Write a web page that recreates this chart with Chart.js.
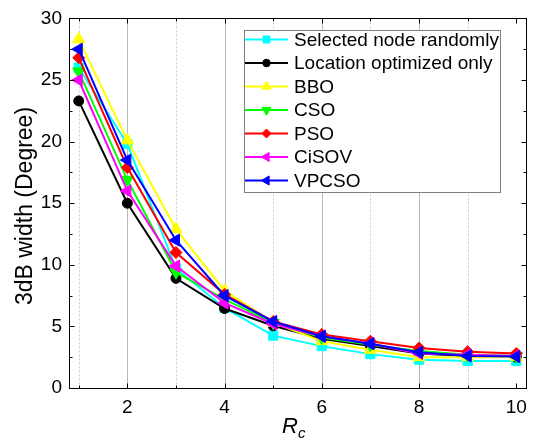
<!DOCTYPE html>
<html>
<head>
<meta charset="utf-8">
<script src="https://cdn.jsdelivr.net/npm/chart.js@4/dist/chart.umd.min.js"></script>
<style>
  html, body { margin: 0; padding: 0; background: #fff; }
  #wrap { width: 535px; height: 440px; position: relative; }
</style>
</head>
<body>
<div id="wrap"><canvas id="c" width="535" height="440"></canvas></div>
<script>
// ---- data ----
const xValues = [1, 2, 3, 4, 5, 6, 7, 8, 9, 10];
const seriesNames = ["Selected node randomly", "Location optimized only", "BBO", "CSO", "PSO", "CiSOV", "VPCSO"];
const selectedRandomly = [26.0, 19.8, 9.7, 6.5, 4.25, 3.4, 2.75, 2.3, 2.2, 2.2];
const locationOnly     = [23.3, 15.0, 8.9, 6.45, 5.05, 4.0, 3.4, 2.8, 2.6, 2.5];
const bbo              = [28.3, 20.1, 12.9, 7.9, 5.3, 3.8, 3.1, 2.5, 2.5, 2.5];
const cso              = [25.7, 16.9, 9.4, 7.2, 5.3, 4.1, 3.5, 3.0, 2.7, 2.6];
const pso              = [26.8, 17.9, 11.0, 7.6, 5.4, 4.35, 3.8, 3.25, 2.95, 2.8];
const cisov            = [25.0, 16.0, 9.9, 6.9, 5.2, 4.2, 3.6, 2.8, 2.7, 2.6];
const vpcso            = [27.5, 18.5, 12.0, 7.5, 5.4, 4.2, 3.6, 2.9, 2.6, 2.55];
const yTickValues = [0, 5, 10, 15, 20, 25, 30];
const xTickLabels = [2, 4, 6, 8, 10];

const seriesValues = [selectedRandomly, locationOnly, bbo, cso, pso, cisov, vpcso];
const seriesColors = ["#00ffff", "#000000", "#ffff00", "#00ff00", "#ff0000", "#ff00ff", "#0000ff"];
const seriesStyles = ["rect", "circle", "triangle", "triangle", "rectRot", "triangle", "triangle"];
const seriesRot    = [0, 0, 0, 180, 0, 270, 270];
const seriesRadius = [6.5, 5, 7, 7, 6, 7, 7];

const FONT = "'Liberation Sans', Arial, sans-serif";

const datasets = seriesNames.map((name, i) => ({
  label: name,
  data: xValues.map((x, j) => ({ x: x, y: seriesValues[i][j] })),
  borderColor: seriesColors[i],
  backgroundColor: seriesColors[i],
  pointBackgroundColor: seriesColors[i],
  pointBorderColor: seriesColors[i],
  pointStyle: seriesStyles[i],
  pointRotation: seriesRot[i],
  pointRadius: seriesRadius[i],
  pointBorderWidth: 1,
  borderWidth: 2,
  tension: 0,
  order: seriesNames.length - 1 - i,
  clip: false
}));

const framePlugin = {
  id: 'frame',
  beforeDatasetsDraw(chart) {
    const ctx = chart.ctx, a = chart.chartArea, xs = chart.scales.x;
    ctx.save();
    xValues.forEach(v => {
      if (v >= 10) return;
      const px = Math.round(xs.getPixelForValue(v)) + 0.5;
      ctx.beginPath();
      if (v % 2 === 0) {
        ctx.strokeStyle = '#b8b8b8';
        ctx.setLineDash([]);
      } else {
        ctx.strokeStyle = '#d0d0d0';
        ctx.setLineDash([2, 2]);
      }
      ctx.lineWidth = 1;
      ctx.moveTo(px, a.top);
      ctx.lineTo(px, a.bottom);
      ctx.stroke();
    });
    ctx.restore();
  },
  afterDatasetsDraw(chart) {
    const ctx = chart.ctx, a = chart.chartArea, xs = chart.scales.x, ys = chart.scales.y;
    ctx.save();
    ctx.strokeStyle = '#000';
    ctx.lineWidth = 1;
    ctx.setLineDash([]);
    const L = Math.round(a.left) + 0.5, R = Math.round(a.right) + 0.5;
    const T = Math.round(a.top) + 0.5, B = Math.round(a.bottom) + 0.5;
    ctx.strokeRect(L, T, R - L, B - T);
    ctx.beginPath();
    xValues.forEach(v => {
      const px = Math.round(xs.getPixelForValue(v)) + 0.5;
      const len = v % 2 === 0 ? 5 : 3;
      ctx.moveTo(px, B); ctx.lineTo(px, B - len);
      ctx.moveTo(px, T); ctx.lineTo(px, T + len);
    });
    for (let v = 0; v <= 30; v += 2.5) {
      const py = Math.round(ys.getPixelForValue(v)) + 0.5;
      const len = (v % 5 === 0) ? 5 : 3;
      ctx.moveTo(L, py); ctx.lineTo(L + len, py);
      ctx.moveTo(R, py); ctx.lineTo(R - len, py);
    }
    ctx.stroke();
    ctx.restore();
  },
  afterDraw(chart) {
    const ctx = chart.ctx, a = chart.chartArea;
    ctx.save();
    // y title
    ctx.fillStyle = '#000';
    ctx.font = '23px ' + FONT;
    ctx.textAlign = 'center';
    ctx.textBaseline = 'middle';
    ctx.translate(26, 206);
    ctx.rotate(-Math.PI / 2);
    ctx.fillText('3dB width (Degree)', 0, 0);
    ctx.restore();
    // x title R_c
    ctx.save();
    ctx.fillStyle = '#000';
    ctx.textBaseline = 'alphabetic';
    ctx.textAlign = 'left';
    ctx.font = 'italic 22px ' + FONT;
    const rw = ctx.measureText('R').width;
    const cx = 290;
    ctx.fillText('R', cx - rw / 2, 433);
    ctx.font = 'italic 15px ' + FONT;
    ctx.fillText('c', cx + rw / 2, 438);
    ctx.restore();
    // legend
    ctx.save();
    const bx = 244.5, by = 30.5, bw = 256, bh = 162;
    ctx.fillStyle = '#fff';
    ctx.fillRect(bx, by, bw, bh);
    ctx.strokeStyle = '#808080';
    ctx.lineWidth = 1;
    ctx.strokeRect(bx, by, bw, bh);
    ctx.font = '19px ' + FONT;
    ctx.textBaseline = 'middle';
    ctx.textAlign = 'left';
    seriesNames.forEach((name, i) => {
      const y = 39.5 + i * 23.5;
      ctx.strokeStyle = seriesColors[i];
      ctx.lineWidth = 2;
      ctx.beginPath();
      ctx.moveTo(245, y);
      ctx.lineTo(288, y);
      ctx.stroke();
      ctx.fillStyle = seriesColors[i];
      ctx.lineWidth = 1;
      Chart.helpers.drawPoint(ctx, {
        pointStyle: seriesStyles[i],
        rotation: seriesRot[i],
        radius: seriesRadius[i] * 0.75,
        borderWidth: 1
      }, 266.5, y);
      ctx.fillStyle = '#000';
      ctx.fillText(name, 294, y + 1);
    });
    ctx.restore();
  }
};

new Chart(document.getElementById('c'), {
  type: 'line',
  data: { datasets: datasets },
  options: {
    responsive: false,
    animation: false,
    devicePixelRatio: 1,
    layout: { padding: { top: 18, right: 8, left: 0, bottom: 0 } },
    plugins: { legend: { display: false }, tooltip: { enabled: false } },
    scales: {
      x: {
        type: 'linear',
        min: 0.8,
        max: 10.2,
        afterBuildTicks: s => { s.ticks = xValues.map(v => ({ value: v })); },
        afterFit: s => { s.height = 52; },
        grid: { display: false, drawTicks: false },
        border: { display: false },
        ticks: {
          autoSkip: false,
          maxRotation: 0,
          padding: 8,
          color: '#000',
          font: { size: 19, family: FONT },
          callback: v => (xTickLabels.includes(v) ? String(v) : '')
        }
      },
      y: {
        type: 'linear',
        min: 0,
        max: 30,
        afterBuildTicks: s => { s.ticks = yTickValues.map(v => ({ value: v })); },
        afterFit: s => { s.width = 69; },
        grid: { display: false, drawTicks: false },
        border: { display: false },
        ticks: {
          padding: 7,
          color: '#000',
          font: { size: 19, family: FONT }
        }
      }
    }
  },
  plugins: [framePlugin]
});
</script>
</body>
</html>
